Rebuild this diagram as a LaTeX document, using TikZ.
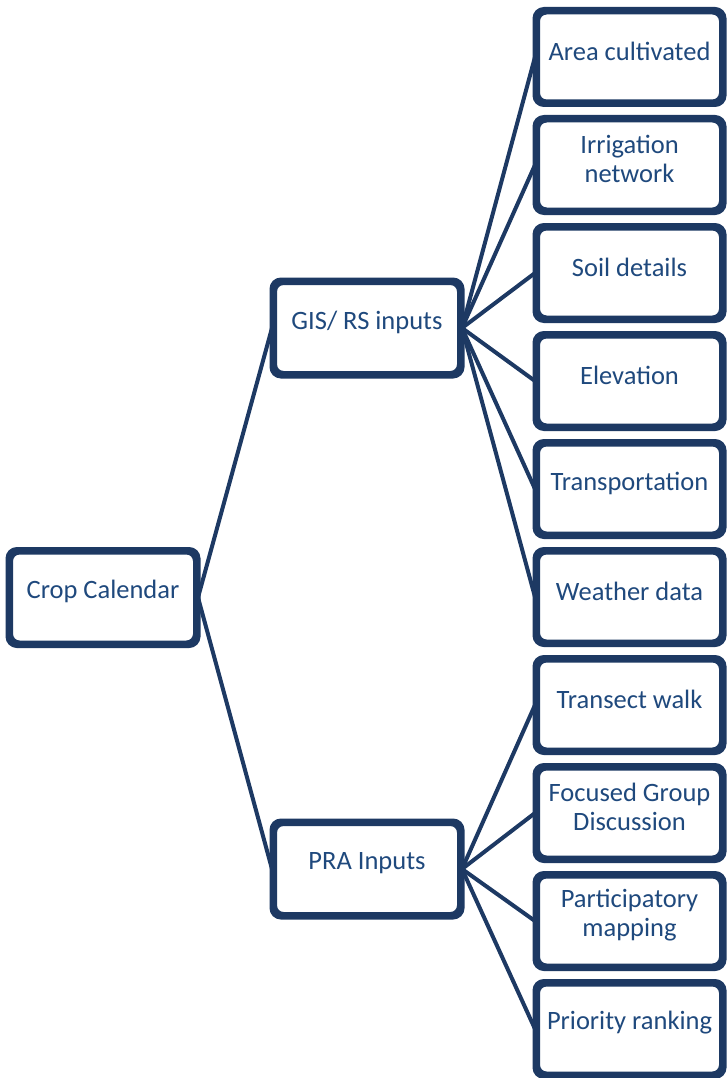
\documentclass[tikz,border=0pt]{standalone}
\usepackage{fontspec}
\setmainfont{Carlito}
\definecolor{boxline}{RGB}{29,57,99}
\definecolor{boxtext}{RGB}{31,73,125}
\begin{document}
\begin{tikzpicture}[x=1pt,y=-1pt,
  box/.style={draw=boxline, line width=5pt, rounded corners=9pt, fill=white,
    minimum width=184pt, minimum height=90pt, inner sep=0pt},
  lbox/.style={box, minimum width=185pt, minimum height=91pt},
  txt/.style={text=boxtext, align=center, inner sep=0pt,
    font=\fontsize{26.5}{29.5}\selectfont},
  conn/.style={draw=boxline, line width=4pt}]
\useasboundingbox (0,0) rectangle (726,1078);
% left level
\node[lbox] (crop) at (103,597.5) {};
\node[lbox] (gis) at (367,328) {};
\node[lbox] (pra) at (367,869) {};
% right level
\foreach \n/\y in {ac/57,ir/165,so/273,el/381,tr/489,we/597,tw/705,fg/813,pm/921,pr/1029}
  \node[box] (\n) at (629.5,\y) {};
% connectors
\foreach \c in {gis,pra} \draw[conn] (crop.east) -- (\c.west);
\foreach \c in {ac,ir,so,el,tr,we} \draw[conn] (gis.east) -- (\c.west);
\foreach \c in {tw,fg,pm,pr} \draw[conn] (pra.east) -- (\c.west);
% redraw box outlines on top of connector ends
\foreach \n in {crop,gis,pra,ac,ir,so,el,tr,we,tw,fg,pm,pr}
  \draw[draw=boxline, line width=5pt, rounded corners=9pt] (\n.south west) rectangle (\n.north east);
% texts
\node[txt] at ([yshift=6pt]crop.center) {Crop Calendar};
\node[txt] at ([yshift=6pt]gis.center) {GIS/ RS inputs};
\node[txt] at ([yshift=6pt]pra.center) {PRA Inputs};
\node[txt] at ([yshift=6pt]ac.center) {Area cultivated};
\node[txt] at ([yshift=6pt]ir.center) {Irrigation\\network};
\node[txt] at ([yshift=6pt]so.center) {Soil details};
\node[txt] at ([yshift=6pt]el.center) {Elevation};
\node[txt] at ([yshift=6pt]tr.center) {Transportation};
\node[txt] at ([yshift=6pt]we.center) {Weather data};
\node[txt] at ([yshift=6pt]tw.center) {Transect walk};
\node[txt] at ([yshift=6pt]fg.center) {Focused Group\\Discussion};
\node[txt] at ([yshift=6pt]pm.center) {Participatory\\mapping};
\node[txt] at ([yshift=6pt]pr.center) {Priority ranking};
\end{tikzpicture}
\end{document}
